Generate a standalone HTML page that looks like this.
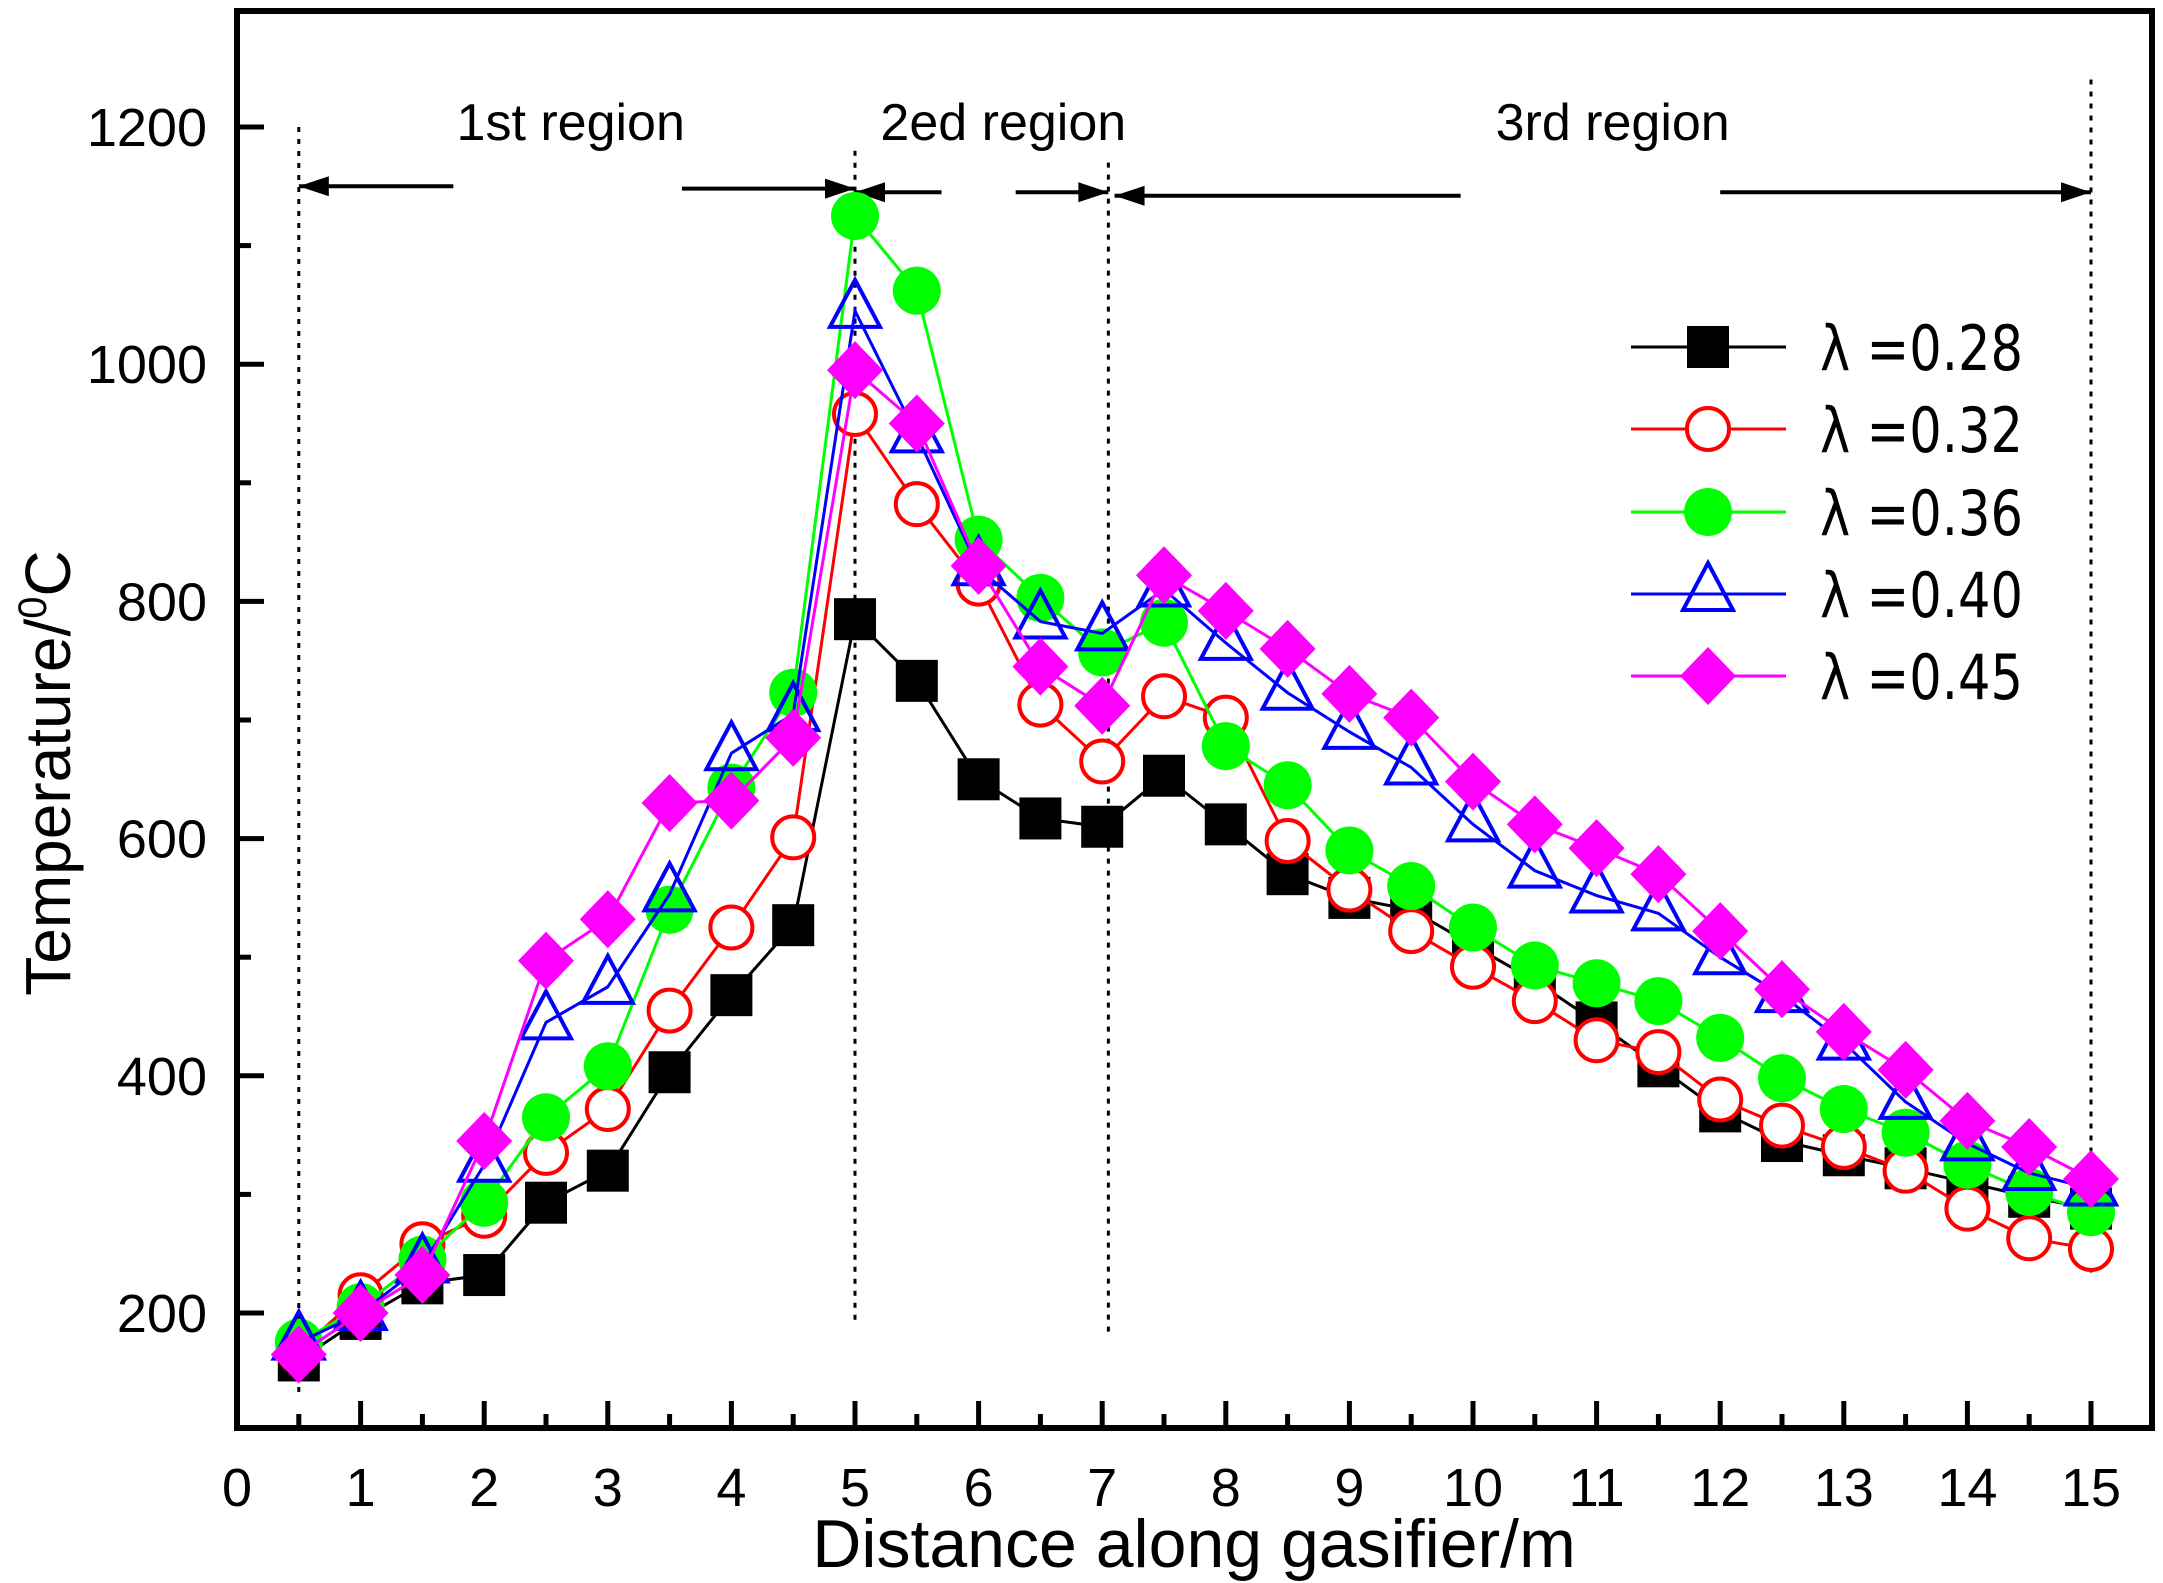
<!DOCTYPE html>
<html><head><meta charset="utf-8"><style>
html,body{margin:0;padding:0;background:#fff}
svg{display:block}
text{font-family:"Liberation Sans",sans-serif;fill:#000}
</style></head><body>
<svg id="chart" width="2163" height="1583" viewBox="0 0 2163 1583" xmlns="http://www.w3.org/2000/svg">
<g id="grid"></g>
<g id="series"></g>
<g id="legend"></g>
</svg>
<script>
const xValues=[0.5,1,1.5,2,2.5,3,3.5,4,4.5,5,5.5,6,6.5,7,7.5,8,8.5,9,9.5,10,10.5,11,11.5,12,12.5,13,13.5,14,14.5,15];
const s028=[160,195,225,232,293,320,403,468,527,785,733,650,617,610,653,612,570,550,540,510,480,445,408,370,345,333,322,310,298,288];
const s032=[168,215,258,282,335,372,455,525,601,958,882,815,713,665,720,702,598,557,522,492,463,430,420,380,358,340,320,288,263,254];
const s036=[175,205,245,293,365,408,540,643,723,1125,1062,852,803,757,782,678,645,590,560,525,493,478,463,432,398,372,352,325,302,285];
const s040=[175,200,240,325,445,475,553,672,705,1045,940,828,783,773,810,765,723,690,660,612,573,552,537,500,468,428,378,343,318,305];
const s045=[165,200,232,345,497,532,630,632,685,995,950,830,745,712,822,792,760,722,702,648,612,592,570,522,473,437,405,362,340,313];
const seriesNames=["λ =0.28","λ =0.32","λ =0.36","λ =0.40","λ =0.45"];
const xTicks=[0,1,2,3,4,5,6,7,8,9,10,11,12,13,14,15];
const yTicks=[200,400,600,800,1000,1200];
const regionLabels=["1st region","2ed region","3rd region"];
const regionCenters=[2.7,6.2,11.13];
const boundaries=[0.5,5,7.05,15];

const NS="http://www.w3.org/2000/svg";
const L=237,T=11,R=2152,B=1428;
function sx(v){return 237+(v-0)*123.6;}
function sy(v){return 1313-(v-200)*1.186;}
function mk(tag,attrs,parent){const e=document.createElementNS(NS,tag);for(const k in attrs)e.setAttribute(k,attrs[k]);parent.appendChild(e);return e;}
const g=document.getElementById('grid');

const bTop=[1200,1180,1170,1240];const bBot=[130,190,180,230];
boundaries.forEach((b,i)=>{
  const l=mk('line',{x1:sx(b),x2:sx(b),y1:sy(bTop[i]),y2:sy(bBot[i]),stroke:'#000','stroke-width':3,'stroke-dasharray':'5 7'},g);
  
  
});
function arrow(xa,xb,y,name){
  const l=mk('line',{x1:sx(xa),x2:sx(xb),y1:sy(y),y2:sy(y),stroke:'#000','stroke-width':4},g);
  const dir=xb>xa?1:-1;const hx=sx(xb);const hy=sy(y);
  const p=mk('polygon',{points:`${hx},${hy} ${hx-dir*30},${hy-10} ${hx-dir*30},${hy+10}`,fill:'#000'},g);
  
  
  
  
}
arrow(1.75,0.5,1150,'region1-left-arrow');
arrow(3.6,5,1148,'region1-right-arrow');
arrow(5.7,5,1145,'region2-left-arrow');
arrow(6.3,7.05,1145,'region2-right-arrow');
arrow(9.9,7.1,1142,'region3-left-arrow');
arrow(12,15,1145,'region3-right-arrow');
regionLabels.forEach((t,i)=>{
  const e=mk('text',{x:sx(regionCenters[i]),y:140,'font-size':52,'text-anchor':'middle'},g);
  e.textContent=t;
  
  
});

const fr=mk('rect',{x:L,y:T,width:R-L,height:B-T,fill:'none',stroke:'#000','stroke-width':6},g);


for(let v=0;v<=15.01;v+=0.5){
  const major=Math.abs(v-Math.round(v))<1e-6;
  mk('line',{x1:sx(v),x2:sx(v),y1:B,y2:B-(major?27:14),stroke:'#000','stroke-width':5},g);
}
for(let v=200;v<=1250;v+=100){
  const major=v%200===0;
  mk('line',{x1:L,x2:L+(major?27:14),y1:sy(v),y2:sy(v),stroke:'#000','stroke-width':5},g);
}
xTicks.forEach(v=>{
  const e=mk('text',{x:sx(v),y:1506,'font-size':54,'text-anchor':'middle'},g);
  e.textContent=v;
  
  
});
yTicks.forEach(v=>{
  const e=mk('text',{x:207,y:sy(v)+19,'font-size':54,'text-anchor':'end'},g);
  e.textContent=v;
  
  
});
const xt=mk('text',{x:1194,y:1567,'font-size':68,'text-anchor':'middle'},g);
xt.textContent='Distance along gasifier/m';


const yt=mk('text',{transform:'translate(70,773) rotate(-90)','font-size':64,'text-anchor':'middle'},g);
yt.innerHTML='Temperature/<tspan font-size="40" dy="-24">0</tspan><tspan dy="24">C</tspan>';



const sg=document.getElementById('series');
const colors=['#000000','#ff0000','#00ff00','#0000ff','#ff00ff'];
const kinds=['square','circle','dot','triangle','diamond'];
const allData=[s028,s032,s036,s040,s045];
function marker(kind,cx,cy,color,parent){
  let e;
  if(kind==='square')e=mk('rect',{x:cx-21,y:cy-21,width:42,height:42,fill:color},parent);
  else if(kind==='circle')e=mk('circle',{cx:cx,cy:cy,r:21,fill:'#fff',stroke:color,'stroke-width':4},parent);
  else if(kind==='dot')e=mk('circle',{cx:cx,cy:cy,r:24,fill:color},parent);
  else if(kind==='triangle')e=mk('polygon',{points:`${cx},${cy-31} ${cx+25},${cy+16} ${cx-25},${cy+16}`,fill:'none',stroke:color,'stroke-width':4},parent);
  else e=mk('polygon',{points:`${cx},${cy-29} ${cx+28},${cy} ${cx},${cy+29} ${cx-28},${cy}`,fill:color},parent);
  return e;
}
allData.forEach((d,si)=>{
  const grp=mk('g',{},sg);
  
  
  const pts=d.map((v,i)=>sx(xValues[i])+','+sy(v)).join(' ');
  const pl=mk('polyline',{points:pts,fill:'none',stroke:colors[si],'stroke-width':3},grp);
  
  
  d.forEach((v,i)=>{
    const m=marker(kinds[si],sx(xValues[i]),sy(v),colors[si],grp);
    
    
  });
});

const lg=document.getElementById('legend');
const rowsY=[347,429,512,594,676];
seriesNames.forEach((n,i)=>{
  const ln=mk('line',{x1:1631,x2:1786,y1:rowsY[i],y2:rowsY[i],stroke:colors[i],'stroke-width':3},lg);
  
  
  const m=marker(kinds[i],1708,rowsY[i],colors[i],lg);
  
  
  const t=mk('text',{x:1820,y:rowsY[i]+23,'font-size':62,textLength:203,lengthAdjust:'spacingAndGlyphs',style:'font-family:"DejaVu Sans",sans-serif'},lg);
  t.textContent=n;
  
  
});
</script>
</body></html>
